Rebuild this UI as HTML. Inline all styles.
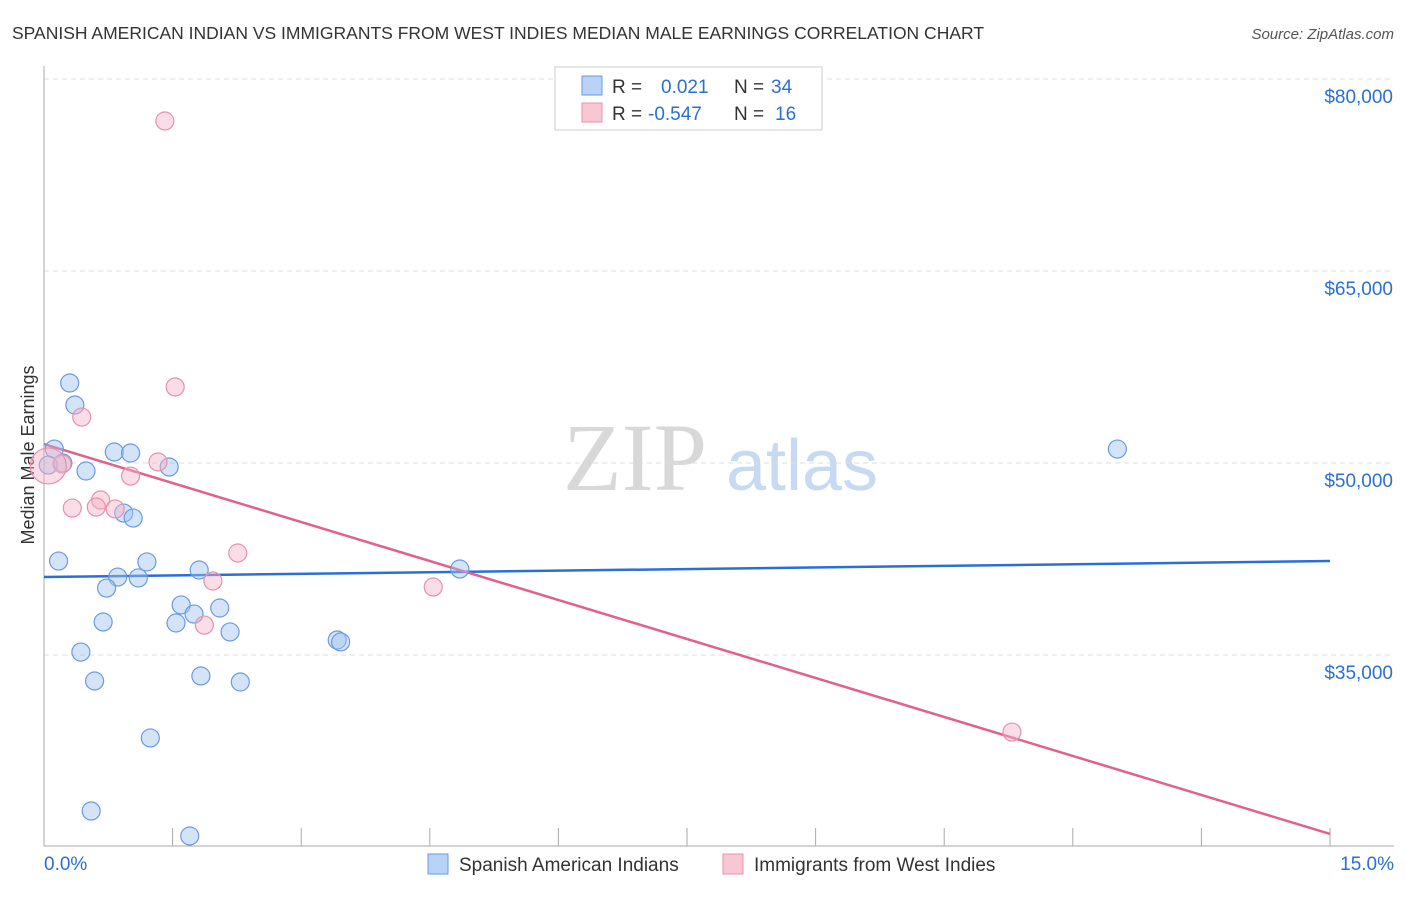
<!DOCTYPE html>
<html><head><meta charset="utf-8"><style>
body{margin:0;background:#fff;font-family:"Liberation Sans",sans-serif}
</style></head><body>
<svg width="1406" height="892" viewBox="0 0 1406 892" font-family="Liberation Sans, sans-serif">
<text x="12" y="39" font-size="17.5" fill="#333">SPANISH AMERICAN INDIAN VS IMMIGRANTS FROM WEST INDIES MEDIAN MALE EARNINGS CORRELATION CHART</text>
<text x="1394" y="39" font-size="15" fill="#555" font-style="italic" text-anchor="end">Source: ZipAtlas.com</text>
<g>
<text x="635" y="490" font-size="96" fill="#d8d8d8" font-family="Liberation Serif, serif" text-anchor="middle">ZIP</text>
<text x="802" y="490" font-size="72" fill="#c8daf2" text-anchor="middle">atlas</text>
</g>
<g id="grid"></g>
<g id="axes"></g>
<text transform="translate(34,455) rotate(-90)" font-size="18" fill="#333" text-anchor="middle">Median Male Earnings</text>
<g id="lines"></g>
<g id="points"></g>
<g>
<rect x="555" y="67" width="267" height="63" fill="#fff" stroke="#ccc"/>
<rect x="582" y="76" width="20" height="19" fill="#b8d3f5" stroke="#6a9ae0"/>
<rect x="582" y="103" width="20" height="19" fill="#f9c6d4" stroke="#e890aa"/>
<text x="612" y="93" font-size="19" fill="#333">R = </text><text x="661" y="93" font-size="19" fill="#2a6fd6">0.021</text>
<text x="734" y="93" font-size="19" fill="#333">N = </text><text x="771" y="93" font-size="19" fill="#2a6fd6">34</text>
<text x="612" y="120" font-size="19" fill="#333">R = </text><text x="648" y="120" font-size="19" fill="#2a6fd6">-0.547</text>
<text x="734" y="120" font-size="19" fill="#333">N = </text><text x="775" y="120" font-size="19" fill="#2a6fd6">16</text>
</g>
<g>
<rect x="428" y="854" width="20" height="20" fill="#b8d3f5" stroke="#6a9ae0"/>
<text x="459" y="871" font-size="19" fill="#333">Spanish American Indians</text>
<rect x="723" y="854" width="20" height="20" fill="#f9c6d4" stroke="#e890aa"/>
<text x="754" y="871" font-size="19" fill="#333">Immigrants from West Indies</text>
</g>
</svg>
<script>
const yTicks=[35000,50000,65000,80000];
const yTickLabels=["$35,000","$50,000","$65,000","$80,000"];
const xTicks=[0,1.5,3,4.5,6,7.5,9,10.5,12,13.5,15];
const blueX=[0.30,0.36,0.12,0.22,0.49,0.82,1.01,1.46,0.93,1.04,0.17,0.86,1.10,1.20,0.73,1.81,0.69,1.60,1.54,1.75,2.05,2.17,0.43,0.59,1.83,2.29,1.24,0.55,1.70,3.42,3.46,4.85,12.52,0.05];
const blueY=[56250,54530,51090,50000,49375,50860,50780,49690,46090,45700,42340,41090,41020,42270,40230,41640,37580,38910,37500,38200,38670,36800,35230,32970,33360,32890,28520,22810,20860,36170,36020,41720,51090,49840];
const pinkX=[1.41,1.53,0.44,0.33,0.66,0.61,0.83,1.01,1.33,0.21,0.05,2.26,1.97,1.87,4.54,11.29];
const pinkY=[76720,55940,53590,46480,47110,46560,46410,48980,50080,49920,49770,42970,40780,37340,40310,28980];
const blueTrend=[41090,42340];
const pinkTrend=[51480,21020];
const NS="http://www.w3.org/2000/svg";
const X=v=>44+v/15*1286;
const Y=v=>79+(80000-v)/15000*192;
function mk(tag,attrs,parent){const e=document.createElementNS(NS,tag);for(const k in attrs)e.setAttribute(k,attrs[k]);document.getElementById(parent).appendChild(e);return e;}
yTicks.forEach((t,i)=>{
 const l=mk('line',{x1:44,x2:1394,y1:Y(t),y2:Y(t),stroke:'#ddd','stroke-dasharray':'5,4'},'grid');
 
 
 const tx=mk('text',{x:1393,y:Y(t)+24,'font-size':19,fill:'#2a6fd6','text-anchor':'end'},'grid');
 tx.textContent=yTickLabels[i];
 
 
});
const ya=mk('line',{x1:44,x2:44,y1:66,y2:846,stroke:'#aaa'},'axes');


const xa=mk('line',{x1:44,x2:1394,y1:846,y2:846,stroke:'#aaa'},'axes');


xTicks.forEach(t=>{
 const l=mk('line',{x1:X(t),x2:X(t),y1:828,y2:846,stroke:'#aaa'},'axes');
 
 
});
const xl0=mk('text',{x:44,y:870,'font-size':19,fill:'#2a6fd6'},'axes');xl0.textContent=xTicks[0].toFixed(1)+"%";


const xl1=mk('text',{x:1394,y:870,'font-size':19,fill:'#2a6fd6','text-anchor':'end'},'axes');xl1.textContent=xTicks[xTicks.length-1].toFixed(1)+"%";


blueX.forEach((v,i)=>{
 const c=mk('circle',{cx:X(v),cy:Y(blueY[i]),r:9,fill:'rgba(160,196,240,0.45)',stroke:'#6a9ae0','stroke-width':1.2},'points');
 
 
});
pinkX.forEach((v,i)=>{
 const c=mk('circle',{cx:X(v),cy:Y(pinkY[i]),r:i==10?18:9,fill:'rgba(245,180,200,0.45)',stroke:'#e890aa','stroke-width':1.2},'points');
 
 
});
const bl=mk('line',{x1:X(0),x2:X(15),y1:Y(blueTrend[0]),y2:Y(blueTrend[1]),stroke:'#2a6fd6','stroke-width':2.5},'lines');


const pl=mk('line',{x1:X(0),x2:X(15),y1:Y(pinkTrend[0]),y2:Y(pinkTrend[1]),stroke:'#e0608e','stroke-width':2.5},'lines');


</script>
</body></html>
